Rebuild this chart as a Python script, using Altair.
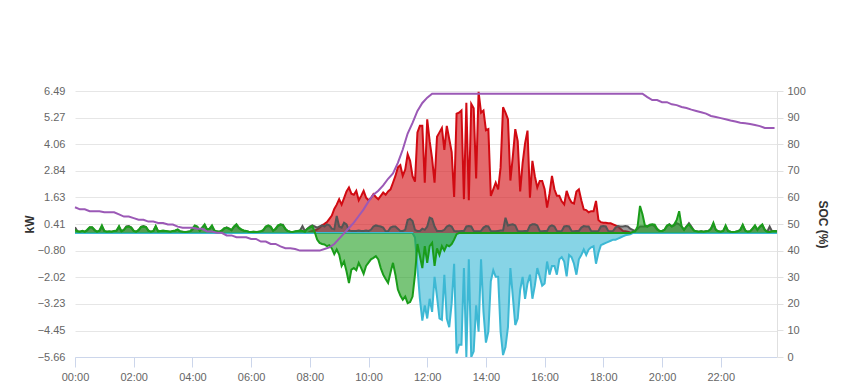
import altair as alt
import pandas as pd

# ---- values (5-minute steps, kW) ----
solar = (
    [0] * 96 +
    [0.05, 0.1, 0.12, 0.17, 0.25, 0.35, 0.42, 0.5, 0.65, 0.8, 1.1, 1.3] +
    [1.55, 1.3, 1.6, 1.9, 2.08, 1.8, 1.75, 1.93, 1.5, 1.7, 1.93, 1.62] +
    [1.5, 1.6, 1.78, 1.65, 1.55, 1.7, 1.85, 1.75, 1.9, 2.0, 2.3, 2.61] +
    [3.0, 3.1, 2.61, 2.9, 3.6, 3.3, 2.6, 2.35, 4.6, 4.9, 4.9, 2.3] +
    [5.2, 4.2, 3.4, 2.3, 4.4, 4.6, 4.8, 3.8, 4.9, 4.3, 3.7, 1.65] +
    [5.45, 5.5, 5.6, 1.55, 5.95, 1.5, 5.9, 5.7, 2.5, 6.45, 5.5, 5.6] +
    [4.7, 4.75, 1.7, 2.0, 2.3, 2.0, 3.0, 5.75, 5.5, 5.2, 2.4, 3.5] +
    [4.75, 4.2, 1.9, 3.2, 4.1, 4.68, 1.62, 3.3, 2.6, 2.08, 2.38, 2.38] +
    [2.0, 1.16, 1.8, 2.61, 2.0, 1.7, 1.7, 1.45, 1.31, 1.93, 1.6, 1.4] +
    [1.35, 1.9, 2.0, 1.5, 1.08, 1.05, 0.95, 1.0, 1.0, 1.47, 0.6, 0.5] +
    [0.47, 0.47, 0.45, 0.45, 0.4, 0.35, 0.3, 0.2, 0.1, 0.08, 0.06, 0.03] +
    [0.02] + [0] * 59
)

load = (
    [0.27, 0.08, 0.06, 0.08, 0.06, 0.12, 0.25, 0.25, 0.12, 0.06, 0.1, 0.3] +
    [0.08, 0.06, 0.06, 0.06, 0.08, 0.1, 0.28, 0.08, 0.15, 0.3, 0.32, 0.25] +
    [0.1, 0.06, 0.12, 0.28, 0.32, 0.28, 0.1, 0.06, 0.08, 0.3, 0.08, 0.08] +
    [0.1, 0.08, 0.06, 0.06, 0.08, 0.1, 0.15, 0.06, 0.06, 0.05, 0.06, 0.06] +
    [0.15, 0.32, 0.28, 0.1, 0.25, 0.35, 0.15, 0.18, 0.3, 0.1, 0.06, 0.06] +
    [0.1, 0.2, 0.26, 0.2, 0.12, 0.28, 0.35, 0.22, 0.15, 0.1, 0.08, 0.06] +
    [0.05, 0.06, 0.05, 0.06, 0.06, 0.12, 0.28, 0.32, 0.28, 0.1, 0.18, 0.32] +
    [0.38, 0.38, 0.18, 0.08, 0.06, 0.05, 0.06, 0.08, 0.12, 0.32, 0.1, 0.2] +
    [0.3, 0.35, 0.3, 0.25, 0.3, 0.35, 0.3, 0.4, 0.35, 0.2, 0.17, 0.78] +
    [0.3, 0.25, 0.47, 0.4, 0.12, 0.1, 0.1, 0.1, 0.12, 0.1, 0.1, 0.12] +
    [0.1, 0.15, 0.3, 0.35, 0.32, 0.3, 0.25, 0.08, 0.08, 0.25, 0.3, 0.3] +
    [0.2, 0.1, 0.1, 0.15, 0.6, 0.65, 0.55, 0.15, 0.1, 0.1, 0.2, 0.15] +
    [0.3, 0.7, 0.65, 0.3, 0.1, 0.1, 0.1, 0.15, 0.3, 0.35, 0.3, 0.1] +
    [0.08, 0.08, 0.1, 0.1, 0.3, 0.32, 0.3, 0.1, 0.08, 0.08, 0.1, 0.25] +
    [0.32, 0.3, 0.1, 0.08, 0.08, 0.1, 0.12, 0.12, 0.7, 0.35, 0.38, 0.4] +
    [0.35, 0.1, 0.08, 0.08, 0.1, 0.1, 0.35, 0.4, 0.4, 0.35, 0.1, 0.08] +
    [0.1, 0.1, 0.3, 0.35, 0.3, 0.1, 0.08, 0.1, 0.3, 0.32, 0.3, 0.1] +
    [0.08, 0.1, 0.1, 0.25, 0.32, 0.3, 0.3, 0.1, 0.08, 0.08, 0.1, 0.3] +
    [0.32, 0.3, 0.1, 0.08, 0.1, 0.25, 0.32, 0.3, 0.3, 0.32, 0.3, 0.2] +
    [0.15, 0.1, 0.2, 0.3, 0.3, 0.3, 0.3, 0.35, 0.38, 0.3, 0.15, 0.1] +
    [0.1, 0.15, 0.3, 0.4, 0.3, 0.35, 0.45, 0.4, 0.3, 0.15, 0.3, 0.45] +
    [0.3, 0.12, 0.08, 0.06, 0.08, 0.06, 0.08, 0.1, 0.2, 0.4, 0.15, 0.08] +
    [0.06, 0.1, 0.3, 0.1, 0.06, 0.05, 0.06, 0.08, 0.15, 0.35, 0.12, 0.06] +
    [0.08, 0.2, 0.32, 0.15, 0.28, 0.35, 0.15, 0.06, 0.3, 0.08, 0.1, 0.08]
)

grid = (
    [0.15, 0.08, 0.06, 0.1, 0.06, 0.15, 0.27, 0.27, 0.15, 0.06, 0.12, 0.35] +
    [0.1, 0.06, 0.08, 0.06, 0.1, 0.12, 0.32, 0.08, 0.15, 0.28, 0.3, 0.25] +
    [0.1, 0.06, 0.15, 0.28, 0.3, 0.28, 0.12, 0.06, 0.1, 0.32, 0.08, 0.1] +
    [0.12, 0.1, 0.08, 0.06, 0.1, 0.12, 0.17, 0.08, 0.06, 0.05, 0.06, 0.08] +
    [0.2, 0.35, 0.3, 0.12, 0.25, 0.4, 0.17, 0.2, 0.35, 0.12, 0.08, 0.06] +
    [0.12, 0.22, 0.24, 0.2, 0.15, 0.3, 0.4, 0.25, 0.17, 0.12, 0.1, 0.06] +
    [0.05, 0.06, 0.05, 0.06, 0.08, 0.15, 0.3, 0.35, 0.3, 0.12, 0.2, 0.35] +
    [0.4, 0.35, 0.2, 0.1, 0.06, 0.05, 0.08, 0.1, 0.12, 0.1, 0.06, 0.2] +
    [0.25, 0.32, 0.05, -0.3, -0.45, -0.5, -0.52, -0.6, -0.55, -0.7, -0.96, -0.75] +
    [-0.98, -1.5, -1.3, -1.74, -2.28, -1.67, -1.6, -1.7, -1.36, -1.6, -1.86, -1.5] +
    [-1.35, -1.2, -1.13, -1.05, -1.2, -1.6, -1.9, -2.1, -2.28, -1.8, -1.36, -1.9] +
    [-2.58, -2.85, -3.04, -2.9, -3.2, -3.15, -2.9, -1.9, -0.5, -1.05, -1.6, -0.6] +
    [-1.36, -0.6, -0.45, -1.5, -0.7, -1.0, -0.6, -0.8, -0.55, -0.6, -0.5, -0.3] +
    [-0.05] + [0] * 71 +
    [0.05, 0.08, 0.3, 1.24, 0.86, 0.35, 0.3, 0.38, 0.4, 0.38, 0.2, 0.1] +
    [0.1, 0.15, 0.35, 0.4, 0.3, 0.4, 0.6, 1.0, 0.3, 0.15, 0.3, 0.4] +
    [0.25, 0.12, 0.08, 0.06, 0.08, 0.06, 0.08, 0.1, 0.2, 0.47, 0.15, 0.08] +
    [0.06, 0.1, 0.35, 0.1, 0.06, 0.05, 0.06, 0.08, 0.15, 0.38, 0.12, 0.06] +
    [0.08, 0.2, 0.35, 0.15, 0.3, 0.4, 0.15, 0.06, 0.05, 0.08, 0.1, 0.08]
)

battery = (
    [0] * 132 +
    [0, 0, 0, 0, 0, 0, 0, -0.2, -1.6, -3.0, -4.0, -3.3] +
    [-3.9, -3.0, -3.6, -2.0, -2.9, -3.9, -3.96, -1.9, -3.9, -4.3, -3.2, -1.4] +
    [-5.5, -5.1, -5.1, -1.6, -5.66, -1.2, -5.66, -5.4, -3.3, -4.5, -1.2, -3.6] +
    [-5.0, -4.5, -2.2, -1.7, -2.0, -2.0, -4.5, -5.57, -5.2, -4.3, -1.6, -2.9] +
    [-4.2, -3.9, -2.6, -2.0, -3.0, -2.3, -1.9, -3.0, -2.4, -1.6, -2.0, -2.4] +
    [-2.3, -1.3, -1.9, -1.5, -1.5, -1.9, -1.2, -1.1, -1.3, -1.98, -1.0, -1.1] +
    [-1.4, -1.9, -1.2, -1.0, -0.75, -1.0, -0.75, -0.65, -0.6, -1.4, -0.9, -0.55] +
    [-0.5, -0.45, -0.4, -0.35, -0.3, -0.3, -0.25, -0.2, -0.15, -0.1, -0.08, -0.05] +
    [0] * 60
)

# state of charge (%), 10-minute steps
soc = (
    [56.3, 55.5, 55.5, 54.8, 54.8, 54.8, 54.4, 54.4, 54.4, 53.6, 52.8, 52.8] +
    [52.2, 51.6, 51.6, 50.9, 50.9, 50.4, 50.4, 49.8, 49.8, 49.0, 48.6, 48.6] +
    [48.6, 48.2, 48.2, 47.2, 47.2, 46.7, 46.7, 45.7, 45.7, 45.0, 45.0, 45.0] +
    [44.4, 44.4, 43.4, 43.4, 42.5, 42.5, 41.6, 40.9, 40.9, 40.6, 40.0, 40.0] +
    [40.0, 40.0, 40.0, 40.6, 41.2, 42.5, 44.5, 46.5, 48.5, 50.5, 53.0, 55.5] +
    [58.5, 61.0, 62.5, 64.5, 67.0, 69.0, 73.0, 78.0, 84.0, 88.0, 92.5, 95.5] +
    [97.5] + [99] * 44 +
    [97.7, 96.6, 96.6] +
    [95.8, 95.8, 95.0, 94.7, 94.0, 93.6, 93.0, 92.5, 92.0, 91.5, 90.6, 90.2] +
    [89.8, 89.4, 88.9, 88.5, 88.1, 87.9, 87.6, 87.2, 86.8, 86.1, 86.1, 86.1]
)

kw_ticks = [6.49, 5.27, 4.06, 2.84, 1.63, 0.41, -0.80, -2.02, -3.23, -4.45, -5.66]
soc_ticks = [0, 10, 20, 30, 40, 50, 60, 70, 80, 90, 100]
hour_ticks = [0, 120, 240, 360, 480, 600, 720, 840, 960, 1080, 1200, 1320]

minutes = [i * 5 for i in range(len(solar))]
df = pd.DataFrame({"t": minutes, "solar": solar, "load": load,
                   "grid": grid, "battery": battery})
soc_df = pd.DataFrame({"t": [i * 10 for i in range(len(soc))], "soc": soc})

FONT = "Liberation Sans"

x_enc = alt.X(
    "t:Q",
    scale=alt.Scale(domain=[0, 1435], nice=False, zero=False),
    axis=alt.Axis(
        values=hour_ticks, title=None, grid=False,
        labelExpr="(floor(datum.value/60) < 10 ? '0' : '') + floor(datum.value/60) + ':00'",
        domainColor="#ccd6eb", tickColor="#ccd6eb", tickSize=10,
        labelColor="#666666", labelFontSize=11, labelPadding=4, labelFont=FONT,
        labelFlush=False,
    ),
)

kw_scale = alt.Scale(domain=[-5.66, 6.49], nice=False, zero=False)
kw_axis = alt.Axis(
    values=kw_ticks, format=".2f", title="kW", grid=True, gridColor="#e6e6e6",
    domain=False, ticks=False, labelColor="#666666", labelFontSize=11,
    labelPadding=10, labelFont=FONT, titleFont=FONT, titleFontSize=12,
    titleFontWeight="bold", titleColor="#333333", titlePadding=1,
)


def series(col, fill, stroke, fill_op):
    area = alt.Chart(df).mark_area(
        color=fill, fillOpacity=fill_op, strokeWidth=0, interpolate="linear", clip=True
    ).encode(
        x=x_enc,
        y=alt.Y(f"{col}:Q", scale=kw_scale, axis=kw_axis, stack=None),
        y2=alt.datum(0),
    )
    line = alt.Chart(df).mark_line(
        color=stroke, strokeWidth=2, interpolate="linear", clip=True
    ).encode(
        x=x_enc,
        y=alt.Y(f"{col}:Q", scale=kw_scale, axis=kw_axis),
    )
    return [area, line]


kw_layers = (
    series("solar", "#d40f14", "#d10a12", 0.62)
    + series("load", "#4d4d4d", "#555555", 0.55)
    + series("battery", "#3dbad6", "#3db8d4", 0.62)
    + series("grid", "#1f9e1f", "#1a9c1a", 0.6)
)
kw_chart = alt.layer(*kw_layers)

soc_line = alt.Chart(soc_df).mark_line(
    color="#9b59b6", strokeWidth=2, interpolate="linear"
).encode(
    x=x_enc,
    y=alt.Y(
        "soc:Q",
        scale=alt.Scale(domain=[0, 100], nice=False, zero=False),
        axis=alt.Axis(
            orient="right", values=soc_ticks, title="SOC (%)", grid=False,
            domain=True, domainColor="#e0e0e0", ticks=True, tickColor="#e0e0e0",
            tickSize=6, labelColor="#666666", labelFontSize=11, labelPadding=4,
            labelFont=FONT, titleFont=FONT, titleFontSize=12, titleFontWeight="bold",
            titleColor="#333333", titlePadding=10,
        ),
    ),
)

chart = (
    alt.layer(kw_chart, soc_line)
    .resolve_scale(y="independent")
    .properties(
        width=702, height=266,
        autosize=alt.AutoSizeParams(type="none"),
        padding={"left": 75, "top": 91, "right": 72, "bottom": 33},
        background="white",
    )
    .configure_view(stroke=None)
)

chart.save("out.html", embed_options={"renderer": "svg", "actions": False})
